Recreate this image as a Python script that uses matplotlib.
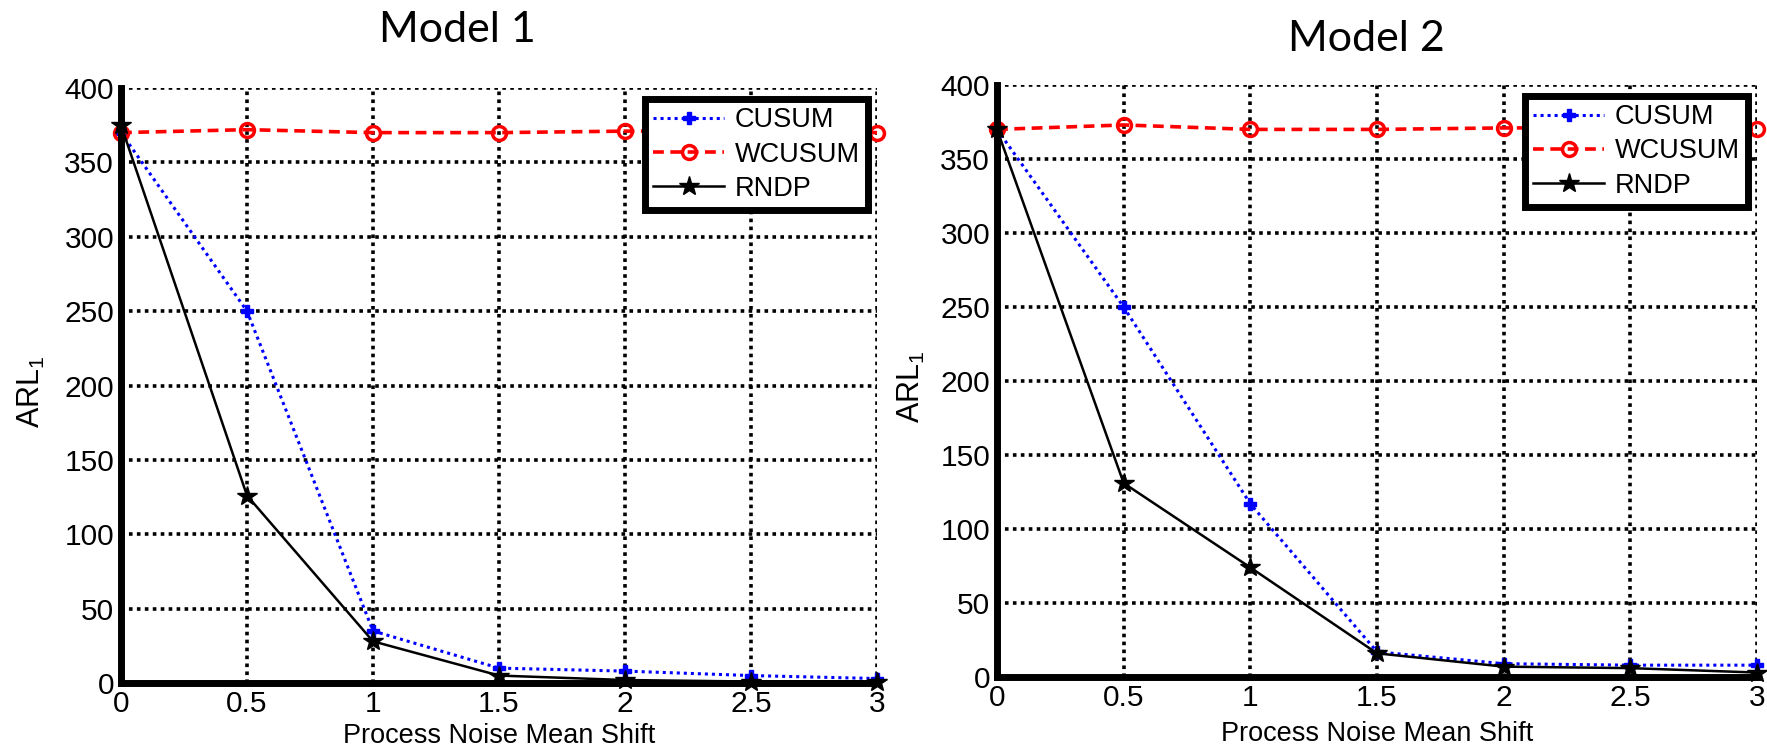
import matplotlib
matplotlib.use('Agg')
import matplotlib.pyplot as plt
from matplotlib.ticker import FuncFormatter, MultipleLocator

plt.rcParams['font.family'] = ['Liberation Sans', 'DejaVu Sans']

# Data
shift = [0, 0.5, 1, 1.5, 2, 2.5, 3]

m1_cusum = [370, 250, 35, 10, 8, 5, 3]
m1_wcusum = [370, 372, 370, 370, 371, 371, 370]
m1_rndp = [375, 126, 28, 5, 2, 1, 1]

m2_cusum = [370, 250, 117, 17, 9, 8, 8]
m2_wcusum = [370, 373, 370, 370, 371, 371, 370]
m2_rndp = [370, 131, 74, 16, 7, 6, 3]

titles = ['Model 1', 'Model 2']

fig = plt.figure(figsize=(17.67, 7.51), dpi=100)
ax1 = fig.add_axes([121 / 1767, 1 - 683 / 751, 756 / 1767, 595 / 751])
ax2 = fig.add_axes([997 / 1767, 1 - 677 / 751, 760 / 1767, 592 / 751])

panels = [
    (ax1, m1_cusum, m1_wcusum, m1_rndp, -0.098, -0.068),
    (ax2, m2_cusum, m2_wcusum, m2_rndp, -0.092, -0.074),
]

for ax, cusum, wcusum, rndp, ylab_x, xlab_y in panels:
    ax.plot(shift, cusum, color='blue', linestyle=(0, (1, 1.3)), linewidth=2.2,
            marker='P', markersize=8, label='CUSUM', clip_on=False, zorder=3)
    ax.plot(shift, wcusum, color='red', linestyle=(0, (3, 1.8)), linewidth=2.6,
            marker='o', markersize=10, markerfacecolor='none', markeredgewidth=2.5,
            label='WCUSUM', clip_on=False, zorder=3)
    ax.plot(shift, rndp, color='black', linestyle='-', linewidth=1.8,
            marker='*', markersize=15, label='RNDP', clip_on=False, zorder=4)

    ax.set_xlim(0, 3)
    ax.set_ylim(0, 400)
    ax.xaxis.set_major_locator(MultipleLocator(0.5))
    ax.yaxis.set_major_locator(MultipleLocator(50))
    ax.xaxis.set_major_formatter(FuncFormatter(lambda x, _: f"{x:g}"))
    ax.grid(True, color='black', linestyle=(0, (1, 1.2)), linewidth=2.6)
    ax.set_axisbelow(True)

    for side in ['top', 'right']:
        ax.spines[side].set_visible(False)
    for side in ['left', 'bottom']:
        ax.spines[side].set_linewidth(5)
        ax.spines[side].set_zorder(5)
    ax.tick_params(direction='in', length=0, labelsize=21.5, pad=5)

    ax.set_xlabel('Process Noise Mean Shift', fontsize=19.5)
    ax.xaxis.set_label_coords(0.5, xlab_y)
    ax.set_ylabel('ARL$_\\mathregular{1}$', fontsize=22)
    ax.yaxis.set_label_coords(ylab_x, 0.49)

    leg = ax.legend(loc='upper right', bbox_to_anchor=(0.988, 0.981), fontsize=19.5,
                    handlelength=2.6, labelspacing=0.3, borderpad=0.3,
                    handletextpad=0.4, fancybox=False, framealpha=1,
                    edgecolor='black', borderaxespad=0)
    leg.get_frame().set_linewidth(5)
    leg.set_zorder(6)

fig.text(457 / 1767, 1 - 30 / 751, titles[0], fontsize=31, family='Lato',
         ha='center', va='center')
fig.text(1366 / 1767, 1 - 39 / 751, titles[1], fontsize=31, family='Lato',
         ha='center', va='center')

plt.savefig('out.png', dpi=100)
